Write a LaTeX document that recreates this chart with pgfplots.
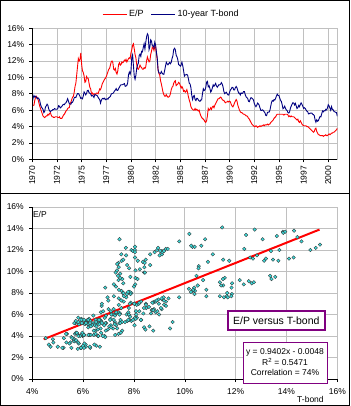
\documentclass[border=0pt]{standalone}
\usepackage{pgfplots}
\pgfplotsset{compat=1.18}
\usepackage{pgfplotstable}
\usepackage{fontspec}
\setmainfont{Liberation Sans}
\definecolor{epred}{RGB}{255,0,0}
\definecolor{tbnavy}{RGB}{0,0,128}
\definecolor{gridgray}{RGB}{192,192,192}
\definecolor{boxpurple}{RGB}{128,0,128}
\definecolor{dotfill}{RGB}{60,220,220}

% m = months since Jan 1970, ep = E/P (%), tb = 10-year T-bond (%)
\pgfplotstableread{
m ep tb
0 6.5 7.0
1 6.6 7.5
2 6.6 7.8
3 7.2 7.6
4 7.6 7.7
5 7.7 7.6
6 7.5 7.4
7 7.3 7.5
8 6.9 7.4
9 6.5 7.2
10 6.2 6.7
11 5.9 6.4
12 5.6 6.24
13 5.3 6.11
14 5.2 5.70
15 5.1 5.83
16 5.2 6.39
17 5.3 6.52
18 5.3 6.73
19 5.5 6.58
20 5.4 6.14
21 5.6 5.93
22 5.7 5.81
23 5.4 5.93
24 5.2 5.95
25 5.2 6.08
26 5.1 6.07
27 5.1 6.19
28 5.2 6.13
29 5.2 6.11
30 5.2 6.11
31 5.1 6.21
32 5.1 6.55
33 5.2 6.48
34 5.0 6.28
35 5.0 6.36
36 5.0 6.46
37 5.2 6.64
38 5.4 6.71
39 5.5 6.67
40 5.7 6.85
41 5.9 6.90
42 6.0 7.13
43 6.2 7.40
44 6.3 7.09
45 6.3 6.79
46 6.8 6.73
47 7.0 6.74
48 7.3 6.99
49 7.6 6.96
50 7.7 7.21
51 8.2 7.51
52 8.9 7.58
53 9.3 7.54
54 10.3 7.81
55 11.3 8.04
56 12.3 8.04
57 12.0 7.90
58 12.2 7.68
59 13.0 7.43
60 11.6 7.50
61 10.8 7.39
62 10.6 7.73
63 10.2 8.23
64 9.4 8.06
65 9.5 7.86
66 10.1 8.06
67 9.9 8.40
68 9.9 8.43
69 9.3 8.14
70 8.8 8.05
71 8.6 8.00
72 8.0 7.74
73 8.1 7.79
74 7.9 7.73
75 8.0 7.56
76 8.0 7.90
77 7.9 7.86
78 8.1 7.83
79 8.1 7.77
80 8.0 7.59
81 8.3 7.41
82 8.6 7.29
83 8.5 6.87
84 8.8 7.21
85 9.2 7.39
86 9.4 7.46
87 9.6 7.37
88 9.8 7.46
89 9.9 7.28
90 10.1 7.33
91 10.4 7.40
92 10.7 7.34
93 11.0 7.52
94 11.1 7.58
95 11.5 7.69
96 11.9 7.96
97 12.0 8.03
98 11.8 8.04
99 11.0 8.15
100 10.9 8.35
101 11.1 8.46
102 10.6 8.64
103 10.4 8.41
104 10.8 8.42
105 11.6 8.64
106 11.8 8.81
107 11.5 9.01
108 11.6 9.10
109 11.9 9.10
110 11.8 9.12
111 11.9 9.18
112 12.1 9.25
113 12.0 8.91
114 12.2 8.95
115 11.9 9.03
116 12.1 9.33
117 12.3 10.30
118 12.4 10.65
119 12.3 10.39
120 13.0 10.80
121 13.4 12.41
122 13.9 12.75
123 14.1 11.47
124 13.5 10.18
125 12.8 9.78
126 12.4 10.25
127 11.6 11.10
128 11.1 11.51
129 11.0 11.75
130 11.2 12.68
131 11.5 12.84
132 11.3 12.57
133 11.2 13.19
134 11.0 13.12
135 11.0 13.68
136 11.2 14.10
137 11.1 13.47
138 11.3 14.28
139 12.0 14.94
140 12.5 15.32
141 12.2 15.15
142 11.9 13.39
143 12.0 13.72
144 12.8 14.59
145 13.2 14.43
146 13.7 13.86
147 13.6 13.87
148 13.3 13.62
149 13.8 14.30
150 13.7 13.95
151 13.0 13.06
152 12.1 12.34
153 10.9 10.91
154 10.5 10.55
155 10.3 10.54
156 9.6 10.46
157 9.2 10.72
158 8.7 10.51
159 8.2 10.40
160 7.9 10.38
161 7.7 10.85
162 7.7 11.38
163 7.9 11.85
164 7.7 11.65
165 7.6 11.54
166 7.6 11.69
167 7.7 11.83
168 8.0 11.67
169 8.5 11.84
170 8.8 12.32
171 8.9 12.63
172 9.3 13.41
173 9.5 13.56
174 9.6 13.36
175 9.0 12.72
176 9.1 12.52
177 9.2 12.16
178 9.4 11.57
179 9.3 11.50
180 9.0 11.38
181 8.7 11.51
182 8.9 11.86
183 8.7 11.43
184 8.3 10.85
185 8.4 10.16
186 8.2 10.31
187 8.3 10.33
188 8.5 10.37
189 8.1 10.24
190 7.6 9.78
191 7.2 9.26
192 6.9 9.19
193 6.4 8.70
194 6.2 7.78
195 6.1 7.30
196 6.0 7.71
197 6.0 7.80
198 6.2 7.30
199 6.0 7.17
200 6.1 7.45
201 6.0 7.43
202 5.9 7.25
203 6.0 7.11
204 5.6 7.08
205 5.3 7.25
206 5.1 7.25
207 5.0 8.02
208 4.9 8.61
209 4.8 8.40
210 4.6 8.45
211 4.5 8.76
212 4.7 9.42
213 5.3 9.52
214 6.2 8.86
215 6.0 8.99
216 6.1 8.67
217 6.3 8.21
218 6.1 8.37
219 6.4 8.72
220 6.5 9.09
221 6.3 8.92
222 6.6 9.06
223 6.8 9.26
224 7.0 8.98
225 7.2 8.80
226 7.4 8.96
227 7.4 9.11
228 7.5 9.09
229 7.6 9.17
230 7.5 9.36
231 7.3 9.18
232 7.2 8.86
233 7.2 8.28
234 7.0 8.02
235 6.9 8.11
236 7.0 8.19
237 7.0 8.01
238 7.1 7.87
239 7.0 7.84
240 7.1 8.21
241 7.0 8.47
242 6.7 8.59
243 6.5 8.79
244 6.4 8.76
245 6.6 8.48
246 6.9 8.47
247 7.1 8.75
248 7.3 8.89
249 7.1 8.72
250 6.6 8.39
251 6.3 8.08
252 6.0 8.09
253 5.8 7.85
254 5.7 8.11
255 5.7 8.04
256 5.6 8.07
257 5.5 8.28
258 5.5 8.27
259 5.4 7.90
260 5.3 7.65
261 5.3 7.53
262 5.2 7.42
263 5.0 7.09
264 4.9 7.03
265 4.7 7.34
266 4.5 7.54
267 4.3 7.48
268 4.2 7.39
269 4.1 7.26
270 4.0 6.84
271 4.0 6.59
272 4.1 6.42
273 4.0 6.59
274 3.9 6.87
275 4.0 6.77
276 4.0 6.60
277 4.1 6.26
278 4.0 5.98
279 4.1 5.97
280 4.1 6.04
281 4.2 5.96
282 4.1 5.81
283 4.2 5.68
284 4.2 5.36
285 4.2 5.33
286 4.3 5.72
287 4.2 5.77
288 4.3 5.75
289 4.3 5.97
290 4.5 6.48
291 4.6 6.97
292 4.7 7.18
293 4.8 7.10
294 5.0 7.30
295 5.1 7.24
296 5.2 7.46
297 5.4 7.74
298 5.5 7.96
299 5.5 7.81
300 5.5 7.78
301 5.5 7.47
302 5.5 7.20
303 5.5 7.06
304 5.5 6.63
305 5.5 6.17
306 5.4 6.28
307 5.5 6.49
308 5.5 6.20
309 5.5 6.04
310 5.5 5.93
311 5.4 5.71
312 5.2 5.65
313 5.3 5.81
314 5.2 6.27
315 5.3 6.51
316 5.2 6.74
317 5.2 6.91
318 5.2 6.87
319 5.1 6.64
320 5.0 6.83
321 4.9 6.53
322 4.8 6.20
323 4.9 6.30
324 4.6 6.58
325 4.5 6.42
326 4.7 6.69
327 4.5 6.89
328 4.3 6.71
329 4.2 6.49
330 4.1 6.22
331 4.1 6.30
332 4.1 6.21
333 4.1 6.03
334 4.0 5.88
335 4.0 5.81
336 3.9 5.54
337 3.8 5.57
338 3.7 5.65
339 3.6 5.64
340 3.5 5.65
341 3.4 5.50
342 3.3 5.46
343 3.4 5.34
344 3.7 4.81
345 3.8 4.53
346 3.4 4.83
347 3.2 4.65
348 3.0 4.72
349 3.0 5.00
350 2.9 5.23
351 2.9 5.18
352 2.9 5.54
353 2.9 5.90
354 2.8 5.79
355 2.9 5.94
356 2.9 5.92
357 3.0 6.11
358 2.9 6.03
359 2.9 6.28
360 3.0 6.66
361 3.1 6.52
362 3.0 6.26
363 3.1 5.99
364 3.2 6.44
365 3.2 6.10
366 3.3 6.05
367 3.3 5.83
368 3.4 5.80
369 3.5 5.74
370 3.6 5.72
371 3.8 5.24
}\data

\begin{document}
\begin{tikzpicture}
\useasboundingbox (0pt,0pt) rectangle (350pt,-406pt);
\draw[line width=1pt] (0.5pt,-0.5pt) rectangle (349.5pt,-405.5pt);
\draw[line width=1pt] (0pt,-193.7pt) -- (350pt,-193.7pt);

\begin{axis}[
  at={(32.3pt,-159.3pt)}, anchor=south west,
  scale only axis, width=305pt, height=131pt,
  xmin=0, xmax=371, ymin=0, ymax=16,
  xtick={0,30,...,360},
  xticklabels={1970,1972,1975,1977,1980,1982,1985,1987,1990,1992,1995,1997,2000},
  x tick label style={rotate=90, anchor=east, font=\fontsize{8.5}{9}\selectfont},
  ytick={0,2,...,16},
  yticklabel={\pgfmathprintnumber{\tick}\%},
  y tick label style={font=\fontsize{8.5}{9}\selectfont, xshift=-1.5pt},
  /pgf/number format/assume math mode=true,
  grid=major, major grid style={gridgray, line width=0.8pt},
  axis line style={gridgray, line width=0.8pt},
  tick align=outside, tick pos=left, major tick length=3pt,
  tick style={black, line width=0.6pt},
  legend columns=2,
  legend style={at={(0.456,1.109)}, anchor=center, draw=none, fill=none,
    font=\fontsize{9}{11}\selectfont,
    /tikz/every even column/.append style={column sep=5pt}},
  legend image code/.code={\draw[#1, line width=0.9pt] (0pt,0pt) -- (24pt,0pt);},
  after end axis/.code={\draw[black, line width=0.8pt] (rel axis cs:0,1) -- (rel axis cs:0,0) -- (rel axis cs:1,0);},
]
\addplot[epred, line width=0.9pt] table[x=m, y=ep]{\data};
\addlegendentry{E/P}
\addplot[tbnavy, line width=0.9pt] table[x=m, y=tb]{\data};
\addlegendentry{10-year T-bond}
\end{axis}

\begin{axis}[
  at={(32.3pt,-379pt)}, anchor=south west,
  scale only axis, width=305pt, height=172pt,
  xmin=4, xmax=16, ymin=0, ymax=16,
  xtick={4,6,...,16}, ytick={0,2,...,16},
  xticklabel={\pgfmathprintnumber{\tick}\%},
  yticklabel={\pgfmathprintnumber{\tick}\%},
  x tick label style={font=\fontsize{8.5}{9}\selectfont, yshift=-3pt},
  y tick label style={font=\fontsize{8.5}{9}\selectfont, xshift=-2pt},
  /pgf/number format/assume math mode=true,
  axis lines*=left, axis line style={black, line width=0.8pt, -},
  grid=major, major grid style={gridgray, line width=0.8pt},
  tick align=outside, major tick length=3pt,
  tick style={black, line width=0.6pt},
  after end axis/.code={
    \node[anchor=north west, inner sep=0pt, font=\fontsize{8.5}{9}\selectfont] at ([xshift=0.5pt, yshift=-4pt]rel axis cs:0,1) {E/P};
    \node[anchor=center, inner sep=0pt, font=\fontsize{8.5}{9}\selectfont] at ([yshift=-20pt]rel axis cs:0.912,0) {T-bond};
    \node[draw=boxpurple, line width=1.6pt, fill=white, minimum width=97pt, minimum height=19pt, inner sep=0pt, font=\fontsize{10.5}{12}\selectfont] at (rel axis cs:0.80,0.34) {E/P versus T-bond};
    \node[draw=boxpurple, line width=0.8pt, fill=white, minimum width=84pt, minimum height=41pt, inner sep=0pt, align=center, font=\fontsize{8.5}{10.5}\selectfont] at (rel axis cs:0.8285,0.096) {y = 0.9402x - 0.0048\\R\textsuperscript{2} = 0.5471\\Correlation = 74\%};
  },
]
\addplot[only marks, mark=*, mark size=1.8pt, mark options={fill=dotfill, draw=black!80, line width=0.35pt}] table[x=tb, y=ep]{\data};
\addplot[epred, line width=2pt] coordinates {(4.45,3.70) (15.3,13.90)};
\end{axis}
\end{tikzpicture}
\end{document}
